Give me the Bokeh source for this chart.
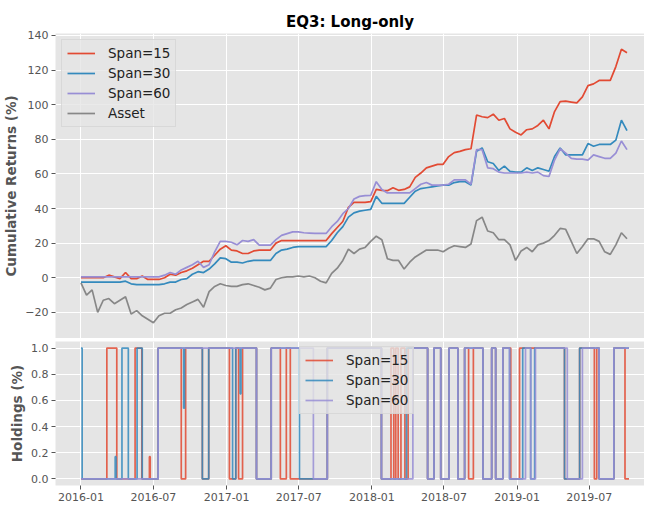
import pandas as pd
from bokeh.plotting import figure
from bokeh.layouts import column
from bokeh.models import (Range1d, FixedTicker, DatetimeTickFormatter, Legend, LegendItem,
                          CustomJSTickFormatter, PrintfTickFormatter)
from bokeh.embed import file_html
from bokeh.resources import INLINE

# ---------------- data ----------------
sample_start = "2016-01-01"
sample_count = 99
sample_freq = "14D"
dates = pd.date_range(sample_start, periods=sample_count, freq=sample_freq)

span15 = [0, 0, 0, 0, 0, 1.5, 0.5, -0.5, 3, -0.5, -0.5, 1, -1, -1, -1, 0, 2, 1.5, 3, 4,
          5.5, 7.5, 9.5, 9.5, 13, 16.5, 18.5, 16, 15.5, 14, 14, 15.5, 16, 16, 16, 20, 21.5, 21.5, 21.5, 21.5,
          21.5, 21.5, 21.5, 21.5, 21.5, 25.5, 29, 32.5, 40.7, 43.5, 43.5, 43.5, 44, 51, 50.5, 50.3, 52, 50.5, 51, 52.5,
          58, 60.5, 63.5, 64.5, 65.5, 65.5, 70, 72.3, 73, 74, 74.5, 94, 93, 92.5, 94.5, 91, 92, 86, 84, 82.5,
          85.5, 86, 88, 91, 86, 96, 101.7, 102, 101.5, 101, 104.5, 111, 112, 114, 114, 114, 122, 132, 130]
span30 = [-2.5, -2.5, -2.5, -2.5, -2.5, -2.5, -2.5, -2.5, -2, -3.5, -4, -4, -4, -4, -4, -3.5, -2.5, -2.5, -1, -0.5,
          2, 3.5, 3, 5, 8, 11.5, 11, 9, 9, 8.5, 9.5, 10, 10, 10, 10, 14, 16, 16.5, 17.5, 18,
          18, 18, 18, 18, 18, 21.5, 26, 29.5, 35, 37.5, 38.5, 39, 39.5, 47, 43, 43, 43, 43, 43, 46.5,
          50, 51.5, 52, 52.5, 53, 53.5, 53.5, 55, 55.5, 55.5, 53.5, 73, 75, 67, 66, 62, 64.5, 61.5, 61, 61,
          63.5, 62, 63.5, 62.5, 61.5, 70, 75, 71, 71, 71, 71, 77.5, 76, 77, 77, 77, 79.5, 91, 85]
span60 = [0.5, 0.5, 0.5, 0.5, 0.5, 0.5, 0.5, 0.5, 0.5, 0.5, 0.5, 0.5, 0.5, 0.5, 0.5, 1.5, 3, 2, 4.5, 6,
          7.5, 9.5, 6, 7.5, 15, 21, 21, 20.5, 19, 21.5, 21, 22, 18.8, 18.8, 18.8, 22, 24.5, 25.5, 26.5, 26.5,
          26, 25.8, 25.6, 25.6, 25.6, 29.5, 32.5, 37, 40, 45.5, 47, 47.4, 47.5, 55.5, 51, 49, 49, 49, 49, 49,
          51.5, 54, 55, 53.5, 53.5, 53.5, 54, 56.5, 56.5, 56.5, 54, 74, 74, 63.5, 63, 61, 60.5, 60.5, 60.5, 60.5,
          61, 60.5, 61, 59, 58.5, 68, 74.5, 72, 69, 68.5, 68.5, 68, 71, 70, 69, 69, 72, 79, 74]
asset = [-3, -10, -7, -20, -13, -12, -15, -13, -11, -21, -19, -22, -24, -26, -22, -20.5, -20.5, -18.5, -17.5, -15.5,
         -14, -12.5, -17, -8, -5, -3.5, -4.5, -5, -5, -4, -3.5, -4.5, -5.5, -7, -6, -1, 0, 0.5, 0.5, 1,
         0.5, 1, 0, -2, -3, 2.5, 5.5, 10, 16.5, 14, 16.5, 17.5, 21, 24, 22, 11, 10, 10, 5, 9,
         12, 14, 16, 16, 16, 15, 17, 18.5, 18, 17.5, 19.5, 33, 35, 27, 26, 22, 22, 19, 10, 15.5,
         17.5, 15, 19, 20, 21.5, 24.5, 28.5, 28, 21, 14, 18, 22.5, 22.5, 21, 15, 13.5, 19, 26, 22.5]

hold_end = "2019-10-09"
hold15_dates = ["2016-01-01", "2016-03-06", "2016-03-31", "2016-05-16", "2016-06-02", "2016-06-21", "2016-06-23",
                "2016-07-13", "2016-09-09", "2016-09-20", "2016-11-01", "2016-11-17", "2017-01-08", "2017-01-24",
                "2017-01-31", "2017-02-10", "2017-03-17", "2017-04-23", "2017-05-16", "2017-05-31", "2017-06-10",
                "2017-09-11", "2018-01-25", "2018-02-18", "2018-02-25", "2018-03-02", "2018-03-08", "2018-03-15",
                "2018-03-25", "2018-04-02", "2018-05-21", "2018-06-06", "2018-06-23", "2018-07-14", "2018-08-05",
                "2018-08-22", "2018-09-01", "2018-09-13", "2018-10-07", "2018-10-29", "2018-11-08", "2018-11-26",
                "2018-12-16", "2019-01-07", "2019-04-30", "2019-06-07", "2019-07-14", "2019-07-20", "2019-07-26",
                "2019-09-01", "2019-09-29"]
hold15_vals = [0, 1, 0, 1, 0, 0.17, 0,
               1, 0, 1, 0, 1, 0, 1,
               0, 1, 0, 1, 0, 1, 0,
               1, 0, 1, 0, 1, 0, 1,
               0, 1, 0, 1, 0, 1, 0,
               1, 0, 1, 0, 1, 0, 1,
               0, 1, 0, 1, 0, 1, 0,
               1, 0]
hold30_dates = ["2016-01-01", "2016-01-04", "2016-03-27", "2016-03-29", "2016-04-13", "2016-04-29", "2016-05-21",
                "2016-06-03", "2016-07-13", "2016-09-15", "2016-09-17", "2016-11-01", "2016-11-17", "2017-01-16",
                "2017-01-24", "2017-02-04", "2017-02-06", "2017-03-17", "2017-04-23", "2017-07-03", "2017-09-11",
                "2018-01-25", "2018-03-29", "2018-05-21", "2018-06-06", "2018-06-23", "2018-07-14", "2018-08-05",
                "2018-08-22", "2018-10-07", "2018-10-29", "2018-11-08", "2018-11-26", "2018-12-13", "2019-01-15",
                "2019-02-04", "2019-02-14", "2019-04-30", "2019-06-07", "2019-07-26", "2019-09-01"]
hold30_vals = [1, 0, 0.17, 0, 1, 0, 1,
               0, 1, 0.54, 1, 0, 1, 0,
               1, 0.65, 1, 0, 1, 0, 1,
               0, 1, 0, 1, 0, 1, 0,
               1, 0, 1, 0, 1, 0, 1,
               0, 1, 0, 1, 0, 1]
hold60_dates = ["2016-01-01", "2016-07-13", "2017-03-17", "2017-04-23", "2017-08-07", "2017-09-11", "2018-01-25",
                "2018-04-14", "2018-05-21", "2018-06-06", "2018-06-23", "2018-07-14", "2018-08-05", "2018-08-22",
                "2018-10-07", "2018-10-29", "2018-11-08", "2018-11-26", "2018-12-13", "2019-01-22", "2019-02-04",
                "2019-02-16", "2019-05-07", "2019-06-14", "2019-07-26", "2019-09-01"]
hold60_vals = [0, 1, 0, 1, 0, 1, 0,
               1, 0, 1, 0, 1, 0, 1,
               0, 1, 0, 1, 0, 1, 0,
               1, 0, 1, 0, 1]

x_tick_labels = ["2016-01", "2016-07", "2017-01", "2017-07", "2018-01", "2018-07", "2019-01", "2019-07"]
ret_ticks = [-20, 0, 20, 40, 60, 80, 100, 120, 140]
hold_ticks = [0.0, 0.2, 0.4, 0.6, 0.8, 1.0]

# ---------------- helpers ----------------
def ms(d):
    return pd.Timestamp(d).value / 1e6

RED, BLUE, PURPLE, GRAY = "#E24A33", "#348ABD", "#988ED5", "#777777"
FONT = "DejaVu Sans"

x_ticks_ms = [ms(d + "-01") for d in x_tick_labels]
x_range = Range1d(ms("2015-10-29"), ms("2019-11-17"))
fmt = DatetimeTickFormatter(days="%Y-%m", months="%Y-%m", years="%Y-%m",
                            hours="%Y-%m", minutes="%Y-%m", seconds="%Y-%m",
                            milliseconds="%Y-%m", microseconds="%Y-%m", hourmin="%Y-%m", minsec="%Y-%m")


def style(p):
    p.background_fill_color = "#E5E5E5"
    p.border_fill_color = "white"
    p.outline_line_color = None
    p.grid.grid_line_color = "white"
    p.grid.grid_line_width = 1
    p.xaxis.ticker = FixedTicker(ticks=x_ticks_ms)
    p.xgrid.ticker = FixedTicker(ticks=x_ticks_ms)
    p.xaxis.formatter = fmt
    for ax in p.axis:
        ax.axis_line_color = None
        ax.major_tick_line_color = "#555555"
        ax.major_tick_out = 4
        ax.major_tick_in = 0
        ax.minor_tick_line_color = None
        ax.major_label_text_color = "#555555"
        ax.major_label_text_font = FONT
        ax.major_label_text_font_size = "11px"
        ax.major_label_standoff = 3
        ax.axis_label_text_font = FONT
        ax.axis_label_text_font_style = "bold"
        ax.axis_label_text_font_size = "13.5px"
        ax.axis_label_text_color = "#555555"
        ax.axis_label_standoff = 3


def style_legend(lg):
    lg.label_text_font = FONT
    lg.label_text_font_size = "13.5px"
    lg.label_text_color = "#222222"
    lg.glyph_width = 28
    lg.glyph_height = 16
    lg.label_height = 16
    lg.spacing = 4
    lg.padding = 5
    lg.margin = 6
    lg.label_standoff = 13
    lg.background_fill_color = "#E5E5E5"
    lg.background_fill_alpha = 0.8
    lg.border_line_color = "#CCCCCC"
    lg.border_line_width = 1


# ---------------- top: cumulative returns ----------------
p1 = figure(width=644, height=338, x_axis_type="datetime", x_range=x_range,
            y_range=Range1d(-35.1, 141.1), output_backend="svg", toolbar_location=None,
            min_border_left=53, min_border_right=0, min_border_top=33, min_border_bottom=0)
style(p1)
p1.xaxis.visible = False
p1.yaxis.ticker = FixedTicker(ticks=ret_ticks)
p1.ygrid.ticker = FixedTicker(ticks=ret_ticks)
p1.yaxis.formatter = CustomJSTickFormatter(code="return tick < 0 ? '\u2212' + Math.abs(tick) : String(tick);")
p1.yaxis.axis_label = "Cumulative Returns (%)"
p1.title.text = "EQ3: Long-only"
p1.title.align = "center"
p1.title.text_font = FONT
p1.title.text_font_size = "15px"
p1.title.text_font_style = "bold"
p1.title.text_color = "black"
p1.title.standoff = 6

r15 = p1.line(dates, span15, line_color=RED, line_width=1.7)
r30 = p1.line(dates, span30, line_color=BLUE, line_width=1.7)
r60 = p1.line(dates, span60, line_color=PURPLE, line_width=1.7)
ra = p1.line(dates, asset, line_color=GRAY, line_width=1.7, line_alpha=0.85)
lg1 = Legend(items=[LegendItem(label="Span=15", renderers=[r15]),
                    LegendItem(label="Span=30", renderers=[r30]),
                    LegendItem(label="Span=60", renderers=[r60]),
                    LegendItem(label="Asset", renderers=[ra])], location="top_left")
style_legend(lg1)
p1.add_layout(lg1)

# ---------------- bottom: holdings ----------------
p2 = figure(width=644, height=166, x_axis_type="datetime", x_range=x_range,
            y_range=Range1d(-0.05, 1.05), output_backend="svg", toolbar_location=None,
            min_border_left=53, min_border_right=0, min_border_top=3, min_border_bottom=19)
style(p2)
p2.yaxis.ticker = FixedTicker(ticks=hold_ticks)
p2.ygrid.ticker = FixedTicker(ticks=hold_ticks)
p2.yaxis.formatter = PrintfTickFormatter(format="%.1f")
p2.yaxis.axis_label = "Holdings (%)"


def step_xy(dlist, vlist):
    xs = [pd.Timestamp(d) for d in dlist] + [pd.Timestamp(hold_end)]
    ys = list(vlist) + [vlist[-1]]
    return xs, ys


x15, y15 = step_xy(hold15_dates, hold15_vals)
x30, y30 = step_xy(hold30_dates, hold30_vals)
x60, y60 = step_xy(hold60_dates, hold60_vals)
h15 = p2.step(x15, y15, mode="after", line_color=RED, line_width=1.7, line_alpha=0.85)
h30 = p2.step(x30, y30, mode="after", line_color=BLUE, line_width=1.7, line_alpha=0.85)
h60 = p2.step(x60, y60, mode="after", line_color=PURPLE, line_width=1.7, line_alpha=0.85)
lg2 = Legend(items=[LegendItem(label="Span=15", renderers=[h15]),
                    LegendItem(label="Span=30", renderers=[h30]),
                    LegendItem(label="Span=60", renderers=[h60])], location=(244, 71))
style_legend(lg2)
p2.add_layout(lg2)

layout = column(p1, p2, spacing=0)
open("out.html", "w").write(file_html(layout, INLINE))
